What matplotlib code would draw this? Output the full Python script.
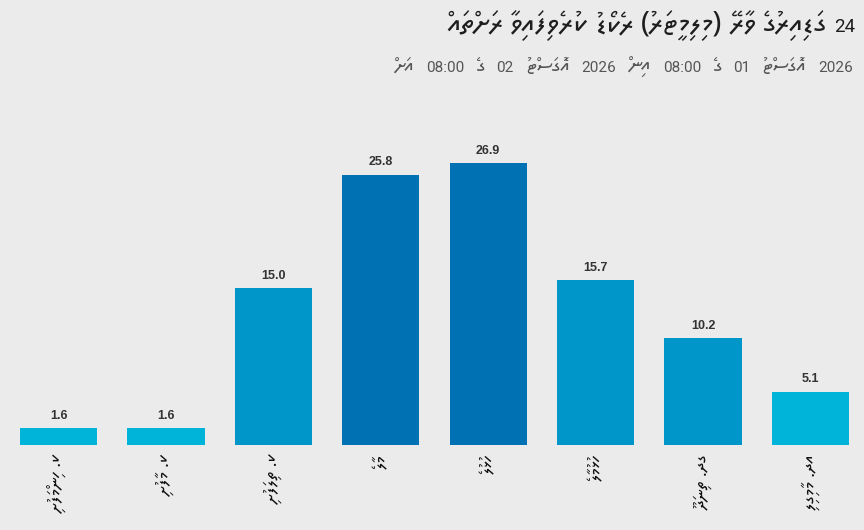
import matplotlib
matplotlib.use("Agg")
import matplotlib.pyplot as plt

# ---- data ----
categories = ["ކ. ހިންމަފުށި", "ކ. މާފުށި", "ކ. ތިލަފުށި", "މާލެ",
              "ހުޅުލެ", "ހުޅުމާލެ", "ގދ. ތިނަދޫ", "އދ. މާމިގިލި"]
rainfall = [1.6, 1.6, 15.0, 25.8, 26.9, 15.7, 10.2, 5.1]
title = "24 ގަޑިއިރުގެ ވާރޭ (މިލިމީޓަރު) ރެކޯޑު ކުރެވިފައިވާ ރަށްތައް"
subtitle = "2026 އޮގަސްޓު 01 ގެ 08:00 އިން 2026 އޮގަސްޓު 02 ގެ 08:00 އަށް"

W, H = 864, 530
BG = "#ebebeb"
THAANA = ["Noto Sans Thaana", "DejaVu Sans"]
DIGITS = ["Roboto", "Noto Sans Thaana", "DejaVu Sans"]


def is_thaana(w):
    return any(0x0780 <= ord(c) <= 0x07BF for c in w)


def vis_word(w):
    # matplotlib lays text out left-to-right: reverse RTL words
    if not is_thaana(w):
        return w
    return w[::-1].translate(str.maketrans("()", ")("))


def visual(text):
    return " ".join(vis_word(w) for w in text.split(" ")[::-1])


def bar_color(v):
    if v >= 20:
        return "#0072b4"
    if v >= 8:
        return "#0096c9"
    return "#00b4d9"


fig = plt.figure(figsize=(W / 100, H / 100), dpi=100, facecolor=BG)
renderer = fig.canvas.get_renderer()
ax = fig.add_axes([5 / W, 85 / H, 859 / W, 315 / H])
ax.set_facecolor(BG)

x = list(range(len(categories)))
bars = ax.bar(x, rainfall, width=0.72, color=[bar_color(v) for v in rainfall])
ax.set_xlim(-0.5, len(categories) - 0.5)
ax.set_ylim(0, 30.05)

for rect, v in zip(bars, rainfall):
    ax.annotate(f"{v:.1f}", (rect.get_x() + rect.get_width() / 2, v),
                xytext=(0, 4.5), textcoords="offset points",
                ha="center", va="bottom", fontsize=9, fontweight="bold",
                color="#333333", family=["Liberation Sans", "DejaVu Sans"])

ax.set_xticks(x)
ax.set_xticklabels([visual(c) for c in categories], rotation=90,
                   ha="center", va="top", fontsize=13, color="#111111",
                   family=THAANA)
ax.tick_params(axis="x", length=0, pad=7)
ax.set_yticks([])
for s in ax.spines.values():
    s.set_visible(False)


def layout_line(text, right_px, left_px, base_px, dsize, gap, color):
    tokens = text.split(" ")

    def place(tsize, keep):
        xr = right_px
        made = []
        tw = 0.0
        for tok in tokens:
            th = is_thaana(tok)
            t = fig.text(xr / W, 1 - base_px / H, vis_word(tok), ha="right",
                         va="baseline", fontsize=tsize if th else dsize,
                         color=color, family=THAANA if th else DIGITS)
            w = t.get_window_extent(renderer).width
            if th:
                tw += w
            made.append(t)
            xr -= w + gap
        if not keep:
            for t in made:
                t.remove()
        return right_px - (xr + gap), tw

    trial = 10.0
    total, tw = place(trial, False)
    fixed = total - tw
    size = trial * (right_px - left_px - fixed) / tw
    place(size, True)


layout_line(title, 855, 447, 32, 13.5, 7, "#1e1e1e")
layout_line(subtitle, 853, 395, 72, 11, 12, "#555555")

fig.savefig("out.png", dpi=100, facecolor=BG)
